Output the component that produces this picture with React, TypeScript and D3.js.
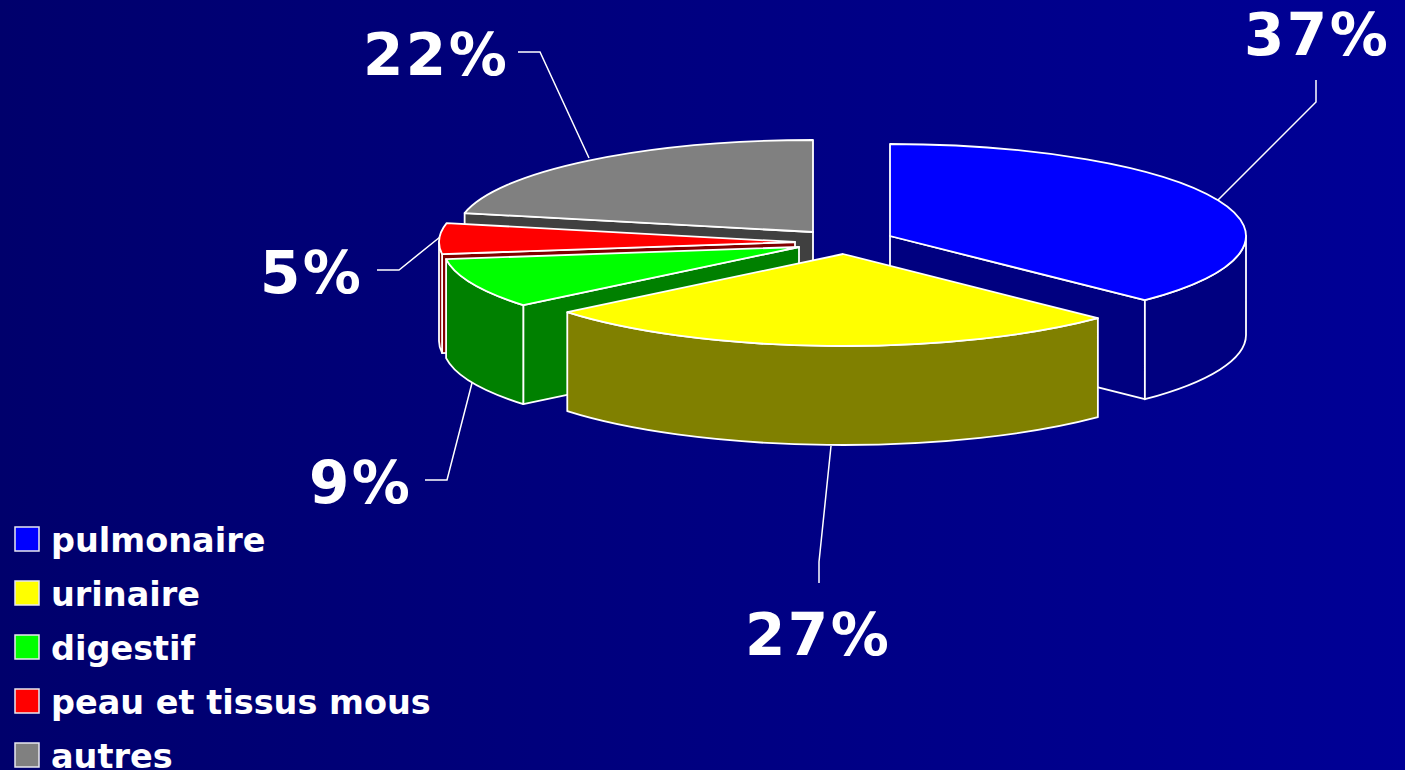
import * as d3 from "d3";

const categories = ["pulmonaire", "urinaire", "digestif", "peau et tissus mous", "autres"];
const shares = [37.3, 26.8, 8.8, 5.4, 21.7];
const colors = ["#0000ff", "#ffff00", "#00ff00", "#ff0000", "#808080"];

const width = 1405;
const height = 770;
const rx = 356;
const ry = 92;
const depth = 99;
const fontFamily = "'DejaVu Sans', sans-serif";

// where each exploded slice has its tip
const tips: [number, number][] = [
  [890, 236],
  [843, 254],
  [799, 247],
  [795, 242],
  [813, 232],
];

// back to front, so the nearer slices hide the others
const drawOrder = [4, 3, 2, 0, 1];

// percent label: x of the text start, baseline, then leader points
const labelLayout = [
  { x: 1244, y: 55, leader: [[1316, 80], [1316, 102], [1218, 200]] },
  { x: 745, y: 655, leader: [[819, 583], [819, 562], [831, 446]] },
  { x: 309, y: 503, leader: [[425, 480], [447, 480], [472, 383]] },
  { x: 260, y: 293, leader: [[377, 270], [399, 270], [440, 237]] },
  { x: 363, y: 75, leader: [[518, 52], [540, 52], [589, 158]] },
];

const pie = d3.pie<number>().sort(null).value((d) => d);
const arcs = pie(shares);
const leaderLine = d3.line();

const rim = (i: number, a: number, dy = 0) => [
  tips[i][0] + rx * Math.sin(a),
  tips[i][1] - ry * Math.cos(a) + dy,
];

const ellipseTo = (p: number[], large = 0) => `A${rx},${ry} 0 ${large} 1 ${p[0]},${p[1]}`;

const topPath = (i: number) => {
  const { startAngle, endAngle } = arcs[i];
  const large = endAngle - startAngle > Math.PI ? 1 : 0;
  return `M${tips[i]}L${rim(i, startAngle)}${ellipseTo(rim(i, endAngle), large)}Z`;
};

// outer wall, only the part of the rim that faces the viewer
const wallPath = (i: number) => {
  const a0 = Math.max(arcs[i].startAngle, Math.PI / 2);
  const a1 = Math.min(arcs[i].endAngle, (3 * Math.PI) / 2);
  if (a1 <= a0) return null;
  const b = rim(i, a1, depth);
  return `M${rim(i, a0)}${ellipseTo(rim(i, a1))}L${b}A${rx},${ry} 0 0 0 ${rim(i, a0, depth)}Z`;
};

const facePath = (i: number, a: number) => {
  const [tx, ty] = tips[i];
  return `M${tx},${ty}L${rim(i, a)}L${rim(i, a, depth)}L${tx},${ty + depth}Z`;
};

// radial cut faces turned towards the viewer
const facePaths = (i: number) => {
  const { startAngle, endAngle } = arcs[i];
  const out: string[] = [];
  if (Math.sin(startAngle) < 0) out.push(facePath(i, startAngle));
  if (Math.sin(endAngle) > 0.001) out.push(facePath(i, endAngle));
  return out;
};

const shade = (c: string) => {
  const r = d3.rgb(c);
  return d3.rgb(r.r / 2, r.g / 2, r.b / 2).formatHex();
};

const App = () => (
  <svg
    width={width}
    height={height}
    style={{ position: "fixed", left: 0, top: 0, display: "block" }}
    fontFamily={fontFamily}
    fontWeight="bold"
  >
    <defs>
      <linearGradient id="bg" x1="0" x2="1" y1="0" y2="0">
        <stop offset="0%" stopColor="#00006c" />
        <stop offset="100%" stopColor="#000096" />
      </linearGradient>
    </defs>
    <rect width={width} height={height} fill="url(#bg)" />

    {labelLayout.map((l, i) => (
      <path key={i} d={leaderLine(l.leader as [number, number][]) ?? ""} fill="none" stroke="#fff" strokeWidth={1.5} />
    ))}

    {drawOrder.map((i) => {
      const wall = wallPath(i);
      return (
        <g key={i} stroke="#fff" strokeWidth={1.8} strokeLinejoin="round">
          {facePaths(i).map((d, k) => (
            <path key={k} d={d} fill={i === 4 ? "#404040" : shade(colors[i])} />
          ))}
          {wall && <path d={wall} fill={shade(colors[i])} />}
          <path d={topPath(i)} fill={colors[i]} />
        </g>
      );
    })}

    {labelLayout.map((l, i) => (
      <text key={i} x={l.x} y={l.y} fill="#fff" fontSize={58} letterSpacing={2.5}>
        {Math.round(shares[i])}%
      </text>
    ))}

    {categories.map((c, i) => (
      <g key={c}>
        <rect x={15} y={527 + i * 54} width={24} height={24} fill={colors[i]} stroke="#e8e8f0" strokeWidth={1.5} />
        <text x={51} y={552 + i * 54} fill="#fff" fontSize={33.5}>
          {c}
        </text>
      </g>
    ))}
  </svg>
);

export default App;
